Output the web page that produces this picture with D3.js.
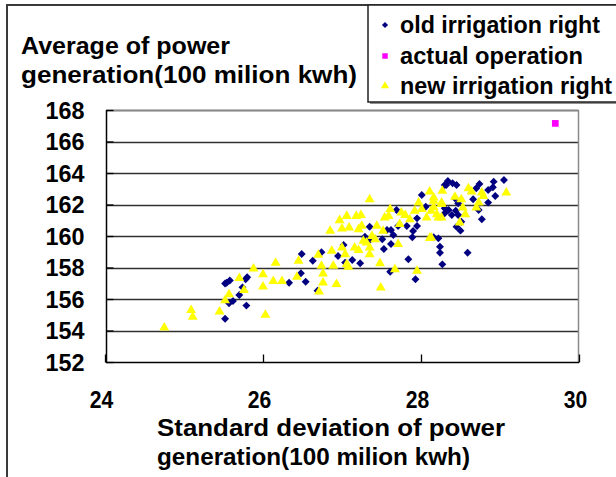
<!DOCTYPE html>
<html><head><meta charset="utf-8">
<script src="https://cdn.jsdelivr.net/npm/d3@7"></script>
<style>html,body{margin:0;padding:0;background:#fff;}svg{display:block;}</style>
</head><body>
<script>
// ---- data ----
const xTicks = [24, 26, 28, 30];
const yTicks = [152, 154, 156, 158, 160, 162, 164, 166, 168];
const seriesNames = ["old irrigation right", "actual operation", "new irrigation right"];
const oldX = [25.54,25.52,25.58,25.80,25.78,25.74,25.70,25.62,25.57,25.79,25.52,
 26.33,26.49,26.48,26.54,26.63,26.69,26.74,26.95,27.02,27.04,27.13,27.23,27.35,27.29,27.35,27.51,27.53,27.57,27.62,27.62,27.65,27.61,27.69,27.71,27.82,27.84,27.90,27.89,27.93,27.95,27.95,28.01,28.06,28.16,28.22,28.24,28.24,28.27,28.30,28.32,28.34,
 28.40,28.45,28.30,28.74,28.70,28.92,29.05,28.91,28.85,28.94,28.66,28.43,28.47,28.85,28.73,28.77,28.35,28.44,28.39,28.47,28.30,28.51,28.45,28.50,28.59];
const oldY = [157.03,156.98,157.17,157.38,157.25,156.74,156.25,155.87,155.73,155.58,154.75,
 157.03,158.86,157.63,157.10,158.43,156.53,158.97,158.73,159.43,158.31,158.48,158.27,160.59,159.96,159.75,159.79,159.17,160.38,160.38,159.49,160.06,157.73,161.65,160.63,160.63,158.52,160.32,159.92,157.25,160.63,161.12,162.60,161.86,159.92,159.85,159.32,158.94,158.20,161.76,163.24,163.49,
 163.35,163.24,163.24,163.30,163.03,163.45,163.56,163.09,162.92,162.54,162.33,162.39,162.08,162.12,161.65,161.06,161.65,161.61,161.33,161.33,161.44,160.91,160.59,160.34,158.94];
const actX = [29.70];
const actY = [167.15];
const newX = [24.75,25.09,25.11,25.45,25.52,25.57,25.70,25.76,25.88,26.00,26.00,26.03,26.13,26.16,
 26.24,26.45,26.43,26.70,26.71,26.74,26.76,26.76,26.87,26.85,26.89,26.93,26.97,27.00,27.06,27.09,27.00,27.04,27.06,27.08,27.18,27.24,27.21,27.25,27.16,27.21,27.27,27.31,27.35,27.35,27.35,27.38,27.42,27.44,27.48,27.49,27.54,27.52,27.59,27.61,27.67,27.71,27.73,27.75,27.80,27.86,27.95,27.97,27.92,28.01,28.07,28.11,28.11,28.16,28.16,28.20,28.26,28.27,28.26,
 28.43,28.51,28.60,28.64,28.77,28.79,29.08,28.73,28.70,28.53,28.56,28.49,28.26,28.16,28.22,28.13,28.13];
const newY = [154.24,155.35,154.92,155.26,155.98,156.36,157.38,156.62,157.99,157.63,156.85,155.05,157.20,158.35,
 157.20,158.48,157.46,158.86,156.53,158.16,157.67,157.10,159.11,160.38,158.16,157.00,161.06,160.53,161.33,160.59,159.32,158.90,158.27,158.10,161.33,161.38,160.49,160.70,159.32,159.16,159.75,159.64,162.39,159.32,158.90,160.06,159.85,160.70,158.33,156.78,161.23,160.38,161.33,161.76,157.95,159.54,160.81,161.54,161.38,161.12,157.84,162.18,161.65,161.76,161.23,159.92,162.88,162.50,161.90,161.44,162.18,162.92,161.23,
 162.54,162.39,163.09,162.88,162.81,162.60,162.81,162.18,161.86,161.86,161.44,160.91,162.08,162.29,161.23,161.65,159.96];
const yTitle = ["Average of power", "generation(100 milion kwh)"];
const xTitle = ["Standard deviation of power", "generation(100 milion kwh)"];

// ---- drawing ----
const W = 616, H = 477;
const FONT = "'Liberation Sans', Arial, sans-serif";
const svg = d3.select("body").append("svg").attr("width", W).attr("height", H);
svg.append("rect").attr("width", W).attr("height", H).attr("fill", "#fff");

// outer frame
svg.append("path").attr("d", `M7,${H+5} L7,5 L${W+5},5`).attr("fill","none").attr("stroke","#3a3a3a").attr("stroke-width",2);

const L = 106, R = 578, T = 110, B = 362;
const x = d3.scaleLinear().domain([24, 30]).range([105, 579]);
const y = d3.scaleLinear().domain([152, 168]).range([B, T]);

const g = svg.append("g");
g.append("rect").attr("x", L).attr("y", T).attr("width", R-L).attr("height", B-T).attr("fill","#fff");

// gridlines
g.selectAll("line.grid").data(yTicks.slice(1)).join("line")
  .attr("x1", L).attr("x2", R).attr("y1", d=>Math.round(y(d))+0.5).attr("y2", d=>Math.round(y(d))+0.5)
  .attr("stroke", "#303030").attr("stroke-width", 1.3);
// plot border top/right gray
g.append("path").attr("d", `M${L},${T+0.5} L${R+0.5},${T+0.5} L${R+0.5},${B}`).attr("fill","none").attr("stroke","#8a8a8a").attr("stroke-width",1.5);

// axes using d3 axis (ticks inward)
const xAxis = d3.axisBottom(x).tickValues(xTicks).tickSize(-8).tickFormat(d3.format("d"));
const xa = g.append("g").attr("transform", `translate(0,${B+0.5})`).call(xAxis);
xa.select(".domain").attr("d", `M${L},0H${R+1}`).attr("stroke","#000").attr("stroke-width",1.5);
xa.selectAll(".tick line").attr("stroke","#000").attr("stroke-width",1.3);
xa.selectAll(".tick text").attr("y", 0).attr("dy", null)
  .attr("transform", "translate(-4,45) scale(0.92,1.08)")
  .attr("font-family", FONT).attr("font-weight","bold").attr("font-size", 23).attr("fill","#000");

const yAxis = d3.axisLeft(y).tickValues(yTicks).tickSize(-7).tickFormat(d3.format("d"));
const ya = g.append("g").attr("transform", `translate(${L+0.5},0)`).call(yAxis);
ya.select(".domain").attr("d", `M0,${T}V${B+1}`).attr("stroke","#000").attr("stroke-width",1.5);
ya.selectAll(".tick line").attr("stroke","#000").attr("stroke-width",1.3);
ya.selectAll(".tick text").attr("x", -22).attr("dy", null).attr("y", 8)
  .attr("font-family", FONT).attr("font-weight","bold").attr("font-size", 24).attr("textLength", 39).attr("lengthAdjust","spacingAndGlyphs").attr("fill","#000");

// markers
const diamond = d3.symbol().type(d3.symbolDiamond2).size(40);
const square = d3.symbol().type(d3.symbolSquare).size(45);
const tri = d3.symbol().type(d3.symbolTriangle).size(42);

const oldData = oldX.map((v,i)=>[v, oldY[i]]);
const newData = newX.map((v,i)=>[v, newY[i]]);
const actData = actX.map((v,i)=>[v, actY[i]]);

g.selectAll("path.old").data(oldData).join("path").attr("class","old")
  .attr("d", diamond).attr("transform", d=>`translate(${x(d[0])},${y(d[1])})`).attr("fill","#000080");
g.selectAll("path.act").data(actData).join("path").attr("class","act")
  .attr("d", square).attr("transform", d=>`translate(${x(d[0])},${y(d[1])})`).attr("fill","#ff00ff");
g.selectAll("path.new").data(newData).join("path").attr("class","new")
  .attr("d", tri).attr("transform", d=>`translate(${x(d[0])},${y(d[1])+1})`).attr("fill","#ffff00");

// y title
const yt = svg.append("g").attr("font-family", FONT).attr("font-weight","bold").attr("font-size", 23).attr("fill","#000");
yt.append("text").attr("x", 21).attr("y", 54).attr("textLength", 209).attr("lengthAdjust","spacingAndGlyphs").text(yTitle[0]);
yt.append("text").attr("x", 21).attr("y", 83).attr("textLength", 336).attr("lengthAdjust","spacingAndGlyphs").text(yTitle[1]);

// x title
const xt = svg.append("g").attr("font-family", FONT).attr("font-weight","bold").attr("font-size", 23).attr("fill","#000");
xt.append("text").attr("x", 157).attr("y", 436).attr("textLength", 348).attr("lengthAdjust","spacingAndGlyphs").text(xTitle[0]);
xt.append("text").attr("x", 157).attr("y", 465).attr("textLength", 313).attr("lengthAdjust","spacingAndGlyphs").text(xTitle[1]);

// legend
const lg = svg.append("g");
lg.append("rect").attr("x", 370).attr("y", 7).attr("width", 260).attr("height", 97).attr("fill","#909090");
lg.append("rect").attr("x", 368).attr("y", 5).attr("width", 260).attr("height", 97).attr("fill","#fff").attr("stroke","#222").attr("stroke-width",1.5);
const legW = [200, 183, 212];
const legColors = ["#000080","#ff00ff","#ffff00"];
const legTypes = [d3.symbolDiamond2, d3.symbolSquare, d3.symbolTriangle];
const legSizes = [24, 30, 28];
const legY = [25, 56, 86];
seriesNames.forEach((name,i)=>{
  lg.append("path").attr("d", d3.symbol().type(legTypes[i]).size(legSizes[i]))
    .attr("transform", `translate(385,${legY[i]})`).attr("fill", legColors[i]);
  lg.append("text").attr("x", 400).attr("y", legY[i]+8).attr("font-family", FONT).attr("font-weight","bold")
    .attr("font-size", 23).attr("textLength", legW[i]).attr("lengthAdjust","spacingAndGlyphs").attr("fill","#000").text(name);
});
</script>
</body></html>
